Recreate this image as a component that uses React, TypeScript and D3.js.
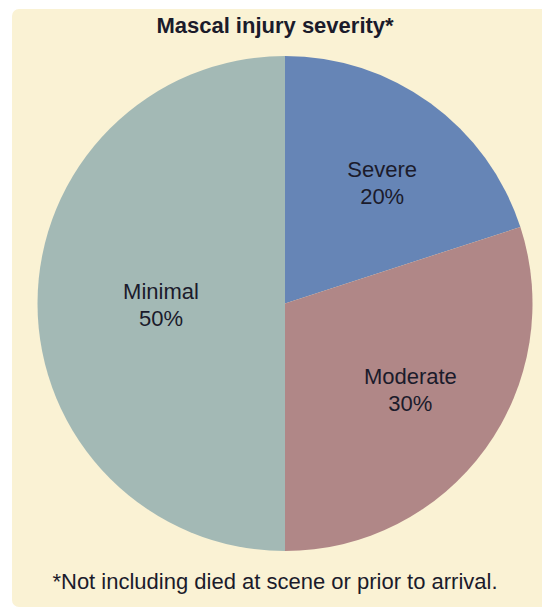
import React from "react";
import * as d3 from "d3";

const categories = ["Severe", "Moderate", "Minimal"];
const values = [20, 30, 50];
const colors = ["#6685B6", "#B08787", "#A3B9B5"];
const title = "Mascal injury severity*";
const footnote = "*Not including died at scene or prior to arrival.";

const W = 542;
const H = 609;
const cx = 285;
const cy = 303.5;
const R = 247.5;
const labelR: Record<string, number> = { Severe: 150, Moderate: 155, Minimal: 124 };
const labelShift: Record<string, [number, number]> = {
  Severe: [9, 0],
  Moderate: [0, -6],
  Minimal: [0, 0],
};

export default function App() {
  const pie = d3
    .pie<number>()
    .sort(null)
    .value((d) => d);
  const arcs = pie(values);
  const arc = d3.arc<d3.PieArcDatum<number>>().innerRadius(0).outerRadius(R);
  const font = "'Liberation Sans', Arial, Helvetica, sans-serif";
  const textColor = "#1b1b2b";

  return (
    <svg
      width={W}
      height={H}
      style={{ position: "absolute", left: 0, top: 0 }}
      fontFamily={font}
    >
      <rect x={0} y={0} width={W} height={H} fill="#ffffff" />
      <rect x={12} y={9} width={W - 12 + 8} height={H - 11} rx={7} fill="#FAF2D4" />
      <text x={275} y={33} textAnchor="middle" fontSize={22} fontWeight="bold" fill={textColor}>
        {title}
      </text>
      <g transform={`translate(${cx},${cy})`}>
        {arcs.map((a, i) => (
          <path key={categories[i]} d={arc(a) || ""} fill={colors[i]} />
        ))}
        {arcs.map((a, i) => {
          const r = labelR[categories[i]];
          const la = d3.arc<d3.PieArcDatum<number>>().innerRadius(r).outerRadius(r);
          const [x0, y0] = la.centroid(a);
          const [sx, sy] = labelShift[categories[i]];
          const x = x0 + sx;
          const y = y0 + sy;
          return (
            <text key={"l" + i} textAnchor="middle" fontSize={22} fill={textColor}>
              <tspan x={x} y={y - 5}>{categories[i]}</tspan>
              <tspan x={x} y={y + 22}>{`${values[i]}%`}</tspan>
            </text>
          );
        })}
      </g>
      <text x={275} y={589} textAnchor="middle" fontSize={22} fill={textColor}>
        {footnote}
      </text>
    </svg>
  );
}
